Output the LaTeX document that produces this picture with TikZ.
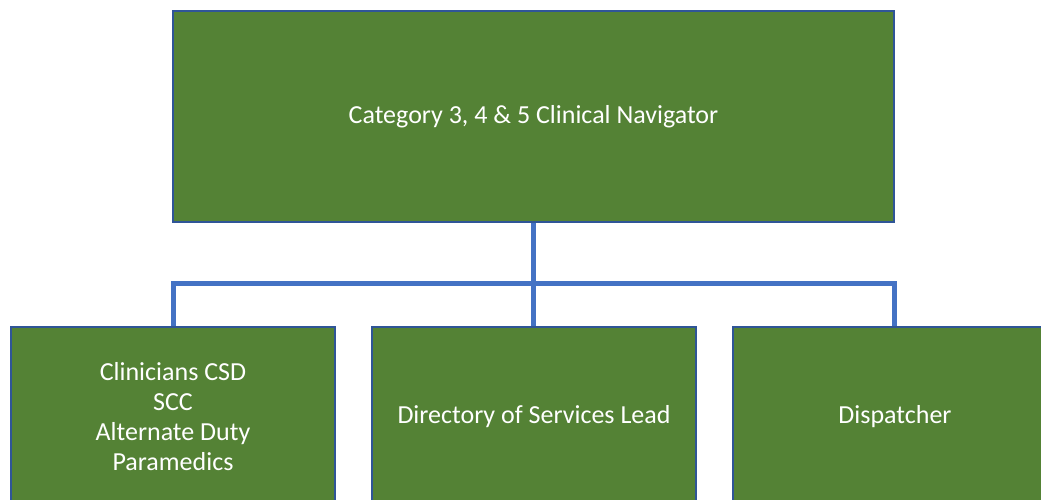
\documentclass[tikz,border=0pt]{standalone}
\usepackage{fontspec}
\setmainfont{Carlito}
\usepackage{tikz}

\definecolor{boxgreen}{HTML}{548235}
\definecolor{boxedge}{HTML}{2F5597}
\definecolor{linkblue}{HTML}{4472C4}

\tikzset{
  role/.style={draw=boxedge, line width=1.5pt, fill=boxgreen, text=white,
    font=\fontsize{26}{30}\selectfont, align=center, inner sep=0pt},
  toprole/.style={role, minimum width=721pt, minimum height=211pt},
  subrole/.style={role, minimum width=324pt, minimum height=180pt},
  link/.style={draw=linkblue, line width=5pt, line join=miter}
}

\begin{document}
\begin{tikzpicture}[x=1pt, y=-1pt]
  \useasboundingbox (0,0) rectangle (1041,499);
  \clip (0,0) rectangle (1041,499);

  % connectors first, boxes on top
  \coordinate (bus) at (533.5,283);
  \coordinate (navS) at (533.5,222);
  \coordinate (csdN) at (173,327);
  \coordinate (dosN) at (533.5,327);
  \coordinate (dispN) at (894,327);
  \draw[link] (navS) -- (dosN);
  \draw[link] (csdN) |- (bus) -| (dispN);

  \node[toprole] (nav) at (533.5,116.5) {Category 3, 4 \& 5 Clinical Navigator};

  \node[subrole] (csd) at (173,417) {Clinicians CSD\\SCC\\Alternate Duty\\Paramedics};
  \node[subrole] (dos) at (534,417) {Directory of Services Lead};
  \node[subrole] (disp) at (895,417) {Dispatcher};
\end{tikzpicture}
\end{document}
